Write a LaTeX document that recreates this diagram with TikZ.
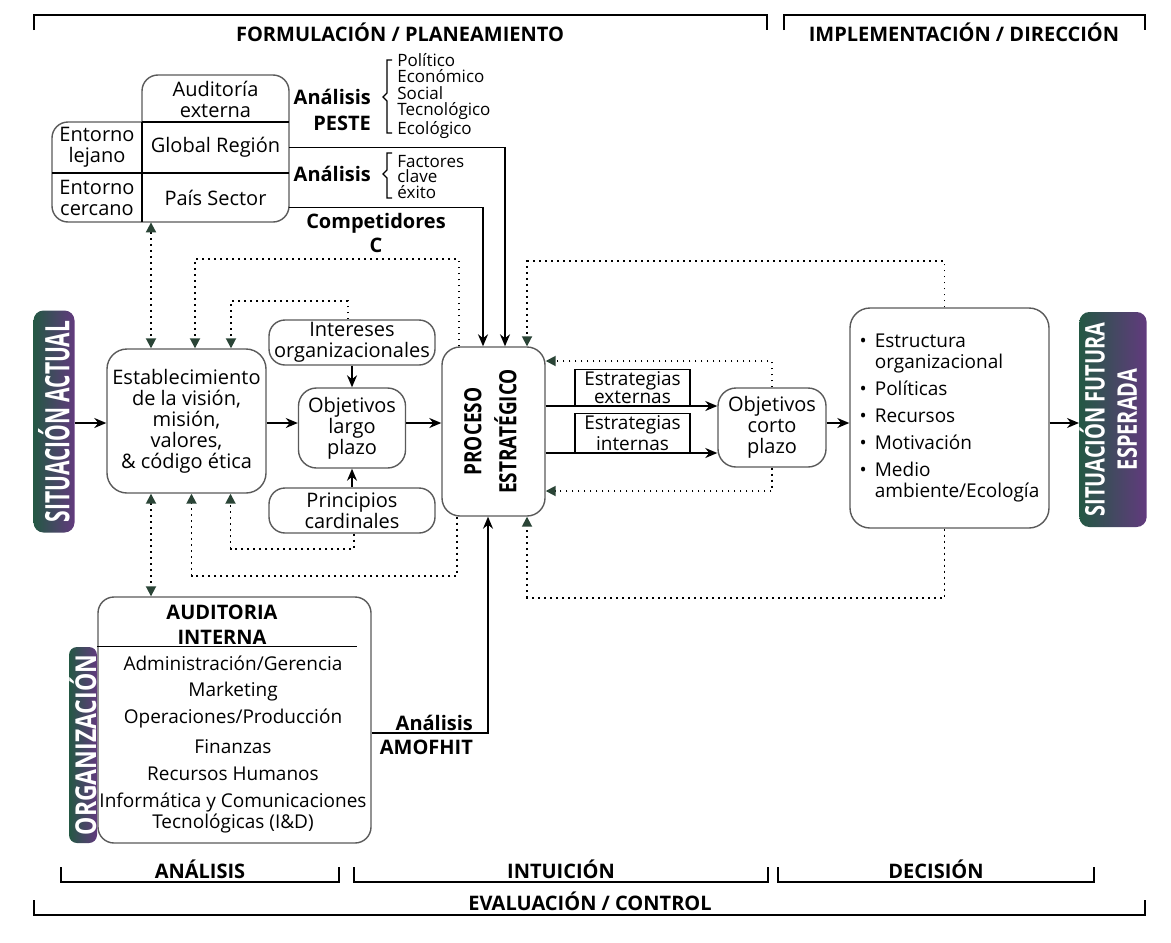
\documentclass[tikz,border=0pt]{standalone}
\usepackage{fontspec}
\setmainfont{Open Sans}
\usetikzlibrary{arrows.meta, calc}
\definecolor{tipgreen}{RGB}{42,68,54}
\definecolor{boxgray}{RGB}{90,90,90}
\definecolor{badgegreen}{RGB}{36,88,68}
\definecolor{badgeblue}{RGB}{48,70,126}
\definecolor{badgepurple}{RGB}{98,58,126}
\tikzset{
    box/.style={draw=boxgray, line width=0.7pt, rounded corners=8pt, align=center, inner sep=0pt}, % 圆角框
    badge/.style={rounded corners=5pt, left color=badgegreen, middle color=badgeblue, right color=badgepurple, text=white, inner sep=0pt}, % 渐变竖条
    flow/.style={-{Stealth[length=6pt, width=5pt]}, line width=0.8pt}, % 实线箭头
    dot flow/.style={line width=0.9pt, dash pattern=on 0.9pt off 2.1pt, -{Triangle[length=5pt, width=5pt, color=tipgreen]}}, % 点线箭头
    dot both/.style={dot flow, {Triangle[length=5pt, width=5pt, color=tipgreen]}-{Triangle[length=5pt, width=5pt, color=tipgreen]}},
    bold label/.style={font=\fontsize{10}{12}\selectfont\bfseries, align=center}, % 粗体标题
    list text/.style={font=\fontsize{8.5}{8.1}\selectfont, align=left, inner sep=0pt},
    strat box/.style={draw, line width=0.6pt, minimum width=57.5pt, inner sep=1pt, align=center, font=\fontsize{9.5}{9}\selectfont, anchor=south}, % 策略小框
    bracket/.style={line width=0.8pt}
}

\begin{document}
\begin{tikzpicture}[x=0.5pt, y=-0.5pt, font=\fontsize{10}{10.5}\selectfont]
    \fill[white] (0,0) rectangle (1171,942);
    \useasboundingbox (0,0) rectangle (1171,942);

    \draw[bracket] (34,30) -- (34,15) -- (767,15) -- (767,30);
    \node[bold label] (formul) at (400,32) {FORMULACIÓN / PLANEAMIENTO};
    \draw[bracket] (784,30) -- (784,15) -- (1145,15) -- (1145,30);
    \node[bold label] (implem) at (964,32) {IMPLEMENTACIÓN / DIRECCIÓN};

    \draw[bracket] (61,867) -- (61,882) -- (339,882) -- (339,867);
    \node[bold label] (analisis) at (200,869) {ANÁLISIS};
    \draw[bracket] (354,867) -- (354,882) -- (768,882) -- (768,867);
    \node[bold label] (intuicion) at (561,869) {INTUICIÓN};
    \draw[bracket] (778,867) -- (778,882) -- (1094,882) -- (1094,867);
    \node[bold label] (decision) at (936,869) {DECISIÓN};
    \draw[bracket] (34,900) -- (34,915) -- (1145,915) -- (1145,900);
    \node[bold label] (evaluacion) at (590,901) {EVALUACIÓN / CONTROL};

    \draw[draw=boxgray, line width=0.7pt, rounded corners=8pt]
        (142,122) -- (142,75) -- (289,75) -- (289,222) -- (52,222) -- (52,122) -- (142,122);
    \draw[line width=0.6pt] (142,122) -- (289,122) (52,173) -- (289,173) (142,122) -- (142,222);
    \node[align=center] (audext) at (215.5,99) {Auditoría\\externa};
    \node[align=center, minimum width=73.5pt, minimum height=25.5pt] (global) at (215.5,147.5) {Global Región};
    \node[align=center, minimum width=73.5pt, minimum height=24.5pt] (pais) at (215.5,197.5) {País Sector};
    \node[align=center] (lejano) at (97,147) {Entorno\\lejano};
    \node[align=center] (cercano) at (97,198) {Entorno\\cercano};

    \node[bold label, align=right, anchor=east, font=\fontsize{10}{13}\selectfont\bfseries] (anpeste) at (378,110) {Análisis\\PESTE};
    \draw[line width=0.6pt] (392,60) -- (387,60) -- (387,93) -- (383,97) -- (387,101) -- (387,133) -- (392,133);
    \node[list text, anchor=west] (peste) at (397,96) {Político\\Económico\\Social\\Tecnológico\\Ecológico};
    \node[bold label, anchor=east] (anfactor) at (378,174) {Análisis};
    \draw[line width=0.6pt] (392,153) -- (387,153) -- (387,170) -- (383,174) -- (387,178) -- (387,198) -- (392,198);
    \node[list text, anchor=west, font=\fontsize{8.5}{7.8}\selectfont] (factor) at (397,177) {Factores\\clave\\éxito};
    \node[bold label] (compet) at (376,233) {Competidores\\C};

    \node[badge, minimum width=20.5pt, minimum height=111pt] (actual) at (54,421.5)
        {\rotatebox{90}{\scalebox{1}[1.6]{\fontsize{10.5}{12}\selectfont\bfseries SITUACIÓN ACTUAL}}};
    \node[box, minimum width=79.5pt, minimum height=72pt, rounded corners=10pt] (vision) at (186.5,421)
        {Establecimiento\\de la visión,\\misión,\\valores,\\\& código ética};
    \node[box, minimum width=83pt, minimum height=22.5pt] (intereses) at (352,342.5) {Intereses\\organizacionales};
    \node[box, minimum width=53.5pt, minimum height=40pt, rounded corners=9pt] (objlargo) at (352,428) {Objetivos\\largo\\plazo};
    \node[box, minimum width=83pt, minimum height=22.5pt] (principios) at (352,510.5) {Principios\\cardinales};
    \node[box, minimum width=51.5pt, minimum height=84.5pt, rounded corners=9pt] (proc) at (493.5,431.5)
        {\rotatebox{90}{\scalebox{1}[1.25]{\fontsize{9.5}{10.5}\selectfont\bfseries
         \begin{tabular}{@{}c@{}}PROCESO\\[2pt]ESTRATÉGICO\end{tabular}}}};
    \node[strat box] (estext) at (632.5,406) {Estrategias\\externas};
    \node[strat box] (estint) at (632.5,453) {Estrategias\\internas};
    \node[box, minimum width=54pt, minimum height=39.5pt, rounded corners=9pt] (objcorto) at (772,427.5) {Objetivos\\corto\\plazo};
    \node[box, minimum width=99.5pt, minimum height=110pt, rounded corners=10pt, font=\fontsize{9.5}{10.5}\selectfont] (impl) at (949.5,418)
        {\begin{tabular}{@{}l@{\hspace{4pt}}l@{}}
         \textbullet & Estructura\\ & organizacional\\[3pt]
         \textbullet & Políticas\\[3pt]
         \textbullet & Recursos\\[3pt]
         \textbullet & Motivación\\[3pt]
         \textbullet & Medio\\ & ambiente/Ecología
         \end{tabular}};
    \node[badge, minimum width=33pt, minimum height=107.5pt] (futura) at (1113,419.5)
        {\rotatebox{90}{\scalebox{1}[1.35]{\fontsize{10}{12}\selectfont\bfseries
         \begin{tabular}{@{}c@{}}SITUACIÓN FUTURA\\ESPERADA\end{tabular}}}};

    \node[box, minimum width=136.5pt, minimum height=123pt] (audint) at (234.5,720) {};
    \node[badge, minimum width=14pt, minimum height=98pt, rounded corners=4pt] (organiz) at (83,745)
        {\rotatebox{90}{\scalebox{1}[1.25]{\fontsize{11.5}{12}\selectfont\bfseries ORGANIZACIÓN}}};
    \draw[line width=0.6pt] (organiz.north east) -- ++(260,0);
    \node[bold label, font=\fontsize{10}{12.5}\selectfont\bfseries] (audhead) at (222,624.5) {AUDITORIA\\INTERNA};
    \foreach \y / \labelText in {
        663/{Administración/Gerencia},
        692/{Marketing},
        718/{Operaciones/Producción},
        747/{Finanzas},
        774/{Recursos Humanos},
        802/{Informática y Comunicaciones},
        823/{Tecnológicas (I\&D)}
    } {
        \node[font=\fontsize{9.5}{10.5}\selectfont, inner sep=0pt] (area\y) at (233,\y) {\labelText};
    }
    \node[bold label, align=right, anchor=east] (amofhit) at (480,735) {Análisis\\AMOFHIT};

    \coordinate (row) at (0,423);
    \coordinate (v1) at ($(vision.north)+(-35.5,0)$);
    \coordinate (v2) at ($(vision.north)+(8.5,0)$);
    \coordinate (v3) at ($(vision.north)+(44.5,0)$);
    \coordinate (w1) at ($(vision.south)+(-35.5,0)$);
    \coordinate (w2) at ($(vision.south)+(5,0)$);
    \coordinate (w3) at ($(vision.south)+(44,0)$);

    \draw[flow] (actual.east |- row) -- (vision.west |- row);
    \draw[flow] (vision.east |- row) -- (objlargo.west |- row);
    \draw[flow] (objlargo.east |- row) -- (proc.west |- row);
    \draw[flow] (intereses) -- (objlargo);
    \draw[flow] (principios) -- (objlargo);
    \draw[flow] (proc.east |- estext.south) -- (objcorto.west |- estext.south);
    \draw[flow] (proc.east |- estint.south) -- (objcorto.west |- estint.south);
    \draw[flow] (objcorto.east |- row) -- (impl.west |- row);
    \draw[flow] (impl.east |- row) -- (futura.west |- row);
    \draw[flow] (global.east) -| ($(proc.north)+(11.5,0)$);
    \draw[flow] ($(pais.east)+(0,10)$) -| ($(proc.north)+(-10.5,0)$);
    \draw[flow] ($(audint.east)+(0,13)$) -| ($(proc.south)+(-5.5,0)$);

    \draw[dot both] (v1 |- pais.south) -- (v1);
    \draw[dot both] (w1) -- (w1 |- audint.north);
    \draw[dot flow] ($(proc.north)+(-34.5,0)$) -- ++(0,-87) -| (v2);
    \draw[dot flow] ($(intereses.north)+(-4,0)$) -- ++(0,-18) -| (v3);
    \draw[dot flow] ($(principios.south)+(2,0)$) -- ++(0,15) -| (w3);
    \draw[dot flow] ($(proc.south)+(-36.5,0)$) -- ++(0,59) -| (w2);
    \draw[dot flow] ($(impl.north)+(-5,0)$) -- ++(0,-46) -| ($(proc.north)+(33.5,0)$);
    \draw[dot flow] ($(impl.south)+(-5,0)$) -- ++(0,69) -| ($(proc.south)+(33.5,0)$);
    \draw[dot flow] (objcorto.north) |- ($(proc.east)+(0,-70.5)$);
    \draw[dot flow] (objcorto.south) |- ($(proc.east)+(0,59.5)$);
\end{tikzpicture}
\end{document}
